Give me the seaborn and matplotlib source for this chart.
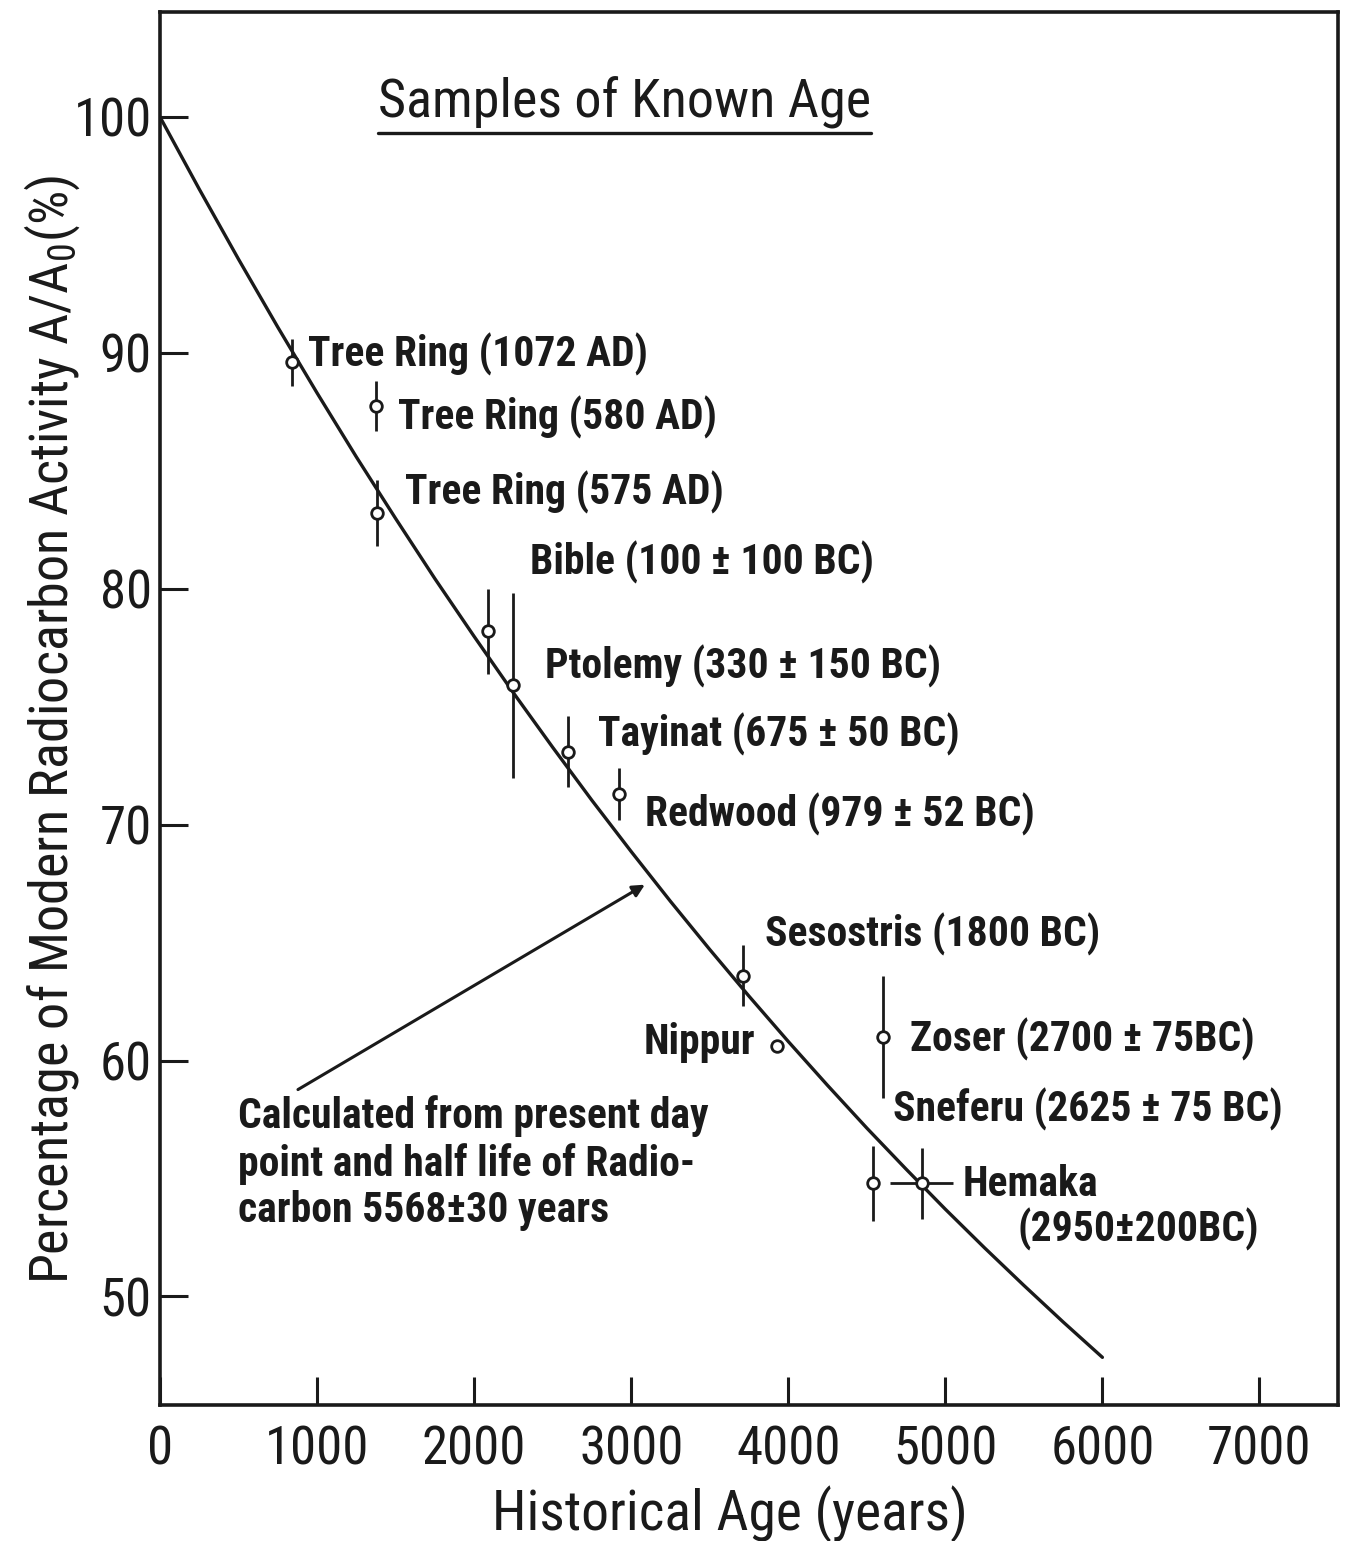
import matplotlib
matplotlib.use("Agg")
import matplotlib.pyplot as plt
import matplotlib.font_manager as fm
from matplotlib.lines import Line2D
import seaborn as sns
import pandas as pd

# ---------------- data ----------------
curve_age = [0, 250, 500, 750, 1000, 1250, 1500, 1750, 2000, 2250, 2500, 2750, 3000,
             3250, 3500, 3750, 4000, 4250, 4500, 4750, 5000, 5250, 5500, 5750, 6000]
curve_pct = [100, 96.94, 93.97, 91.09, 88.30, 85.59, 82.98, 80.43, 77.98, 75.59, 73.28,
             71.03, 68.86, 66.75, 64.71, 62.73, 60.81, 58.95, 57.14, 55.40, 53.70,
             52.06, 50.47, 48.92, 47.42]

sample_names = ["Tree Ring (1072 AD)", "Tree Ring (580 AD)", "Tree Ring (575 AD)",
                "Bible (100 ± 100 BC)", "Ptolemy (330 ± 150 BC)", "Tayinat (675 ± 50 BC)",
                "Redwood (979 ± 52 BC)", "Sesostris (1800 BC)", "Nippur",
                "Zoser (2700 ± 75BC)", "Sneferu (2625 ± 75 BC)", "Hemaka"]
sample_age = [840, 1375, 1381, 2090, 2250, 2600, 2920, 3710, 3930, 4600, 4540, 4850]
sample_pct = [89.6, 87.75, 83.2, 78.2, 75.9, 73.1, 71.3, 63.6, 60.6, 61.0, 54.8, 54.8]
sample_yerr = [1.0, 1.05, 1.4, 1.8, 3.9, 1.5, 1.1, 1.3, 0.0, 2.6, 1.6, 1.5]
sample_xerr = [0, 0, 0, 0, 0, 0, 0, 0, 0, 0, 0, 200]

x_ticks = [0, 1000, 2000, 3000, 4000, 5000, 6000, 7000]
y_ticks = [50, 60, 70, 80, 90, 100]

title_text = "Samples of Known Age"
x_label = "Historical Age (years)"
y_label = "Percentage of Modern Radiocarbon Activity A/A$_0$(%)"
note_text = "Calculated from present day\npoint and half life of Radio-\ncarbon 5568±30 years"
hemaka_extra = "(2950±200BC)"

# ---------------- fonts ----------------
sns.set_theme(style="white")
available = {f.name for f in fm.fontManager.ttflist}
def pick(cands):
    for c in cands:
        if c in available:
            return c
    return "DejaVu Sans"
narrow = pick(["Liberation Sans Narrow", "Roboto Condensed", "DejaVu Sans Condensed", "Liberation Sans"])
is_narrow = narrow in ("Liberation Sans Narrow", "DejaVu Sans Condensed", "Roboto Condensed")
plt.rcParams["font.family"] = [narrow, "DejaVu Sans"]
plt.rcParams["mathtext.default"] = "regular"
scale = 1.0 if is_narrow else 0.8

# ---------------- figure ----------------
W, H = 1350, 1541
fig = plt.figure(figsize=(W / 100, H / 100), dpi=100)
L, R, T, B = 160, 1338, 12, 1405
ax = fig.add_axes([L / W, 1 - B / H, (R - L) / W, (B - T) / H])
ax.set_xlim(0, 7500)
ax.set_ylim(45.4, 104.45)

def px(x, y):
    # image pixel -> data coordinates (layout helper)
    return (x - 160) / 157.1 * 1000, 100 - (y - 117) / 23.6

ink = "#1a1a1a"
curve_df = pd.DataFrame({"age": curve_age, "pct": curve_pct})
sns.lineplot(data=curve_df, x="age", y="pct", ax=ax, color=ink, linewidth=2.4, zorder=2)

ax.errorbar(sample_age, sample_pct, yerr=sample_yerr, xerr=sample_xerr, fmt="none",
            ecolor=ink, elinewidth=2.0, capsize=0, zorder=3)
pts = pd.DataFrame({"age": sample_age, "pct": sample_pct})
sns.scatterplot(data=pts, x="age", y="pct", ax=ax, s=70, facecolor="white",
                edgecolor=ink, linewidth=2.0, zorder=4)

# spines and ticks
for sp in ax.spines.values():
    sp.set_visible(True)
    sp.set_color(ink)
    sp.set_linewidth(2.6)
ax.set_xticks(x_ticks)
ax.set_yticks(y_ticks)
ax.set_xticklabels([str(v) for v in x_ticks])
ax.set_yticklabels([str(v) for v in y_ticks])
ax.tick_params(direction="in", length=20, width=2.2, colors=ink, labelsize=38 * scale,
               bottom=True, left=True, top=False, right=False, pad=14)
ax.tick_params(axis="y", pad=6)
ax.set_xlabel(x_label, fontsize=40 * scale, color=ink)
ax.set_ylabel(y_label, fontsize=39 * scale, color=ink)
ax.xaxis.set_label_coords(0.484, -0.058)
ax.yaxis.set_label_coords(-0.066, 0.485)
ax.grid(False)

# labels on samples (positions given in image pixels)
label_pos = [(308, 355, "left"), (398, 418, "left"), (405, 493, "left"),
             (530, 563, "left"), (545, 667, "left"), (598, 735, "left"),
             (645, 815, "left"), (765, 935, "left"), (755, 1043, "right"),
             (910, 1040, "left"), (893, 1110, "left"), (963, 1185, "left")]
for name, (lx, ly, ha) in zip(sample_names, label_pos):
    dx, dy = px(lx, ly)
    ax.text(dx, dy, name, ha=ha, va="center", fontsize=30 * scale,
            fontweight="bold", color=ink, zorder=5)
dx, dy = px(1018, 1230)
ax.text(dx, dy, hemaka_extra, ha="left", va="center", fontsize=30 * scale,
        fontweight="bold", color=ink)

# note + arrow
nx, ny = px(238, 1096)
ax.text(nx, ny, note_text, ha="left", va="top", fontsize=30 * scale,
        fontweight="bold", color=ink, linespacing=1.17)
ax.annotate("", xy=px(645, 885), xytext=px(298, 1090),
            arrowprops=dict(arrowstyle="-|>", color=ink, lw=2.2, mutation_scale=18,
                            shrinkA=0, shrinkB=0))

# title with underline
tx, ty = px(378, 103)
title = ax.text(tx, ty, title_text, ha="left", va="center", fontsize=39 * scale, color=ink)
fig.canvas.draw()
bb = title.get_window_extent(renderer=fig.canvas.get_renderer())
uy = bb.y0 - 4
fig.add_artist(Line2D([bb.x0 / W, bb.x1 / W], [uy / H, uy / H],
                      transform=fig.transFigure, color=ink, linewidth=2.4))

fig.savefig("out.png", dpi=100, facecolor="white")
